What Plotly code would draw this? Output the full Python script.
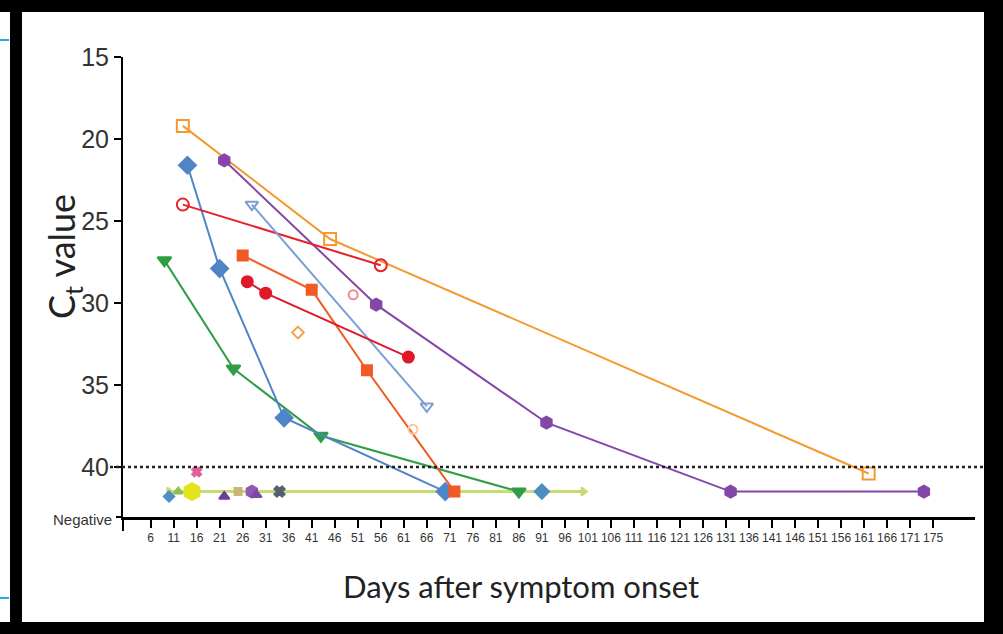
import plotly.graph_objects as go

# ---------------- data ----------------
NEG = 41.5  # plotted level of "Negative" results

orange_sq_x = [13, 45, 162]
orange_sq_y = [19.2, 26.1, 40.4]

blue_dia_x = [14, 21, 35, 70]
blue_dia_y = [21.6, 27.9, 37.0, NEG]

purple_x = [22, 55, 92, 132, 174]
purple_y = [21.3, 30.1, 37.3, NEG, NEG]

red_open_x = [13, 56]
red_open_y = [24.0, 27.7]

lightblue_x = [28, 66]
lightblue_y = [24.0, 36.3]

orangered_x = [26, 41, 53, 72]
orangered_y = [27.1, 29.2, 34.1, NEG]

red_fill_x = [27, 31, 62]
red_fill_y = [28.7, 29.4, 33.3]

green_x = [9, 24, 43, 86]
green_y = [27.4, 34.0, 38.1, NEG]

lime_x = [10, 100]
lime_y = [NEG, NEG]

# isolated single-sample points
single_x = [38, 50, 63, 16, 10, 12, 15, 22, 25, 28, 29, 34, 91]
single_y = [31.8, 29.5, 37.7, 40.3, 41.8, 41.5, 41.5, 41.8, 41.5, 41.5, 41.7, 41.5, NEG]
single_sym = ["diamond-open", "circle-open", "circle-open", "x", "diamond", "triangle-up",
              "hexagon", "triangle-up", "square", "hexagon", "triangle-up", "x", "diamond"]
single_col = ["#f4a24a", "#f08a8a", "#f9c7a0", "#e0609a", "#4f8fc9", "#8cc04a",
              "#e4e41e", "#6a3c9a", "#c8b878", "#8e5bb0", "#7a4aa8", "#556070", "#4a8fc0"]
single_size = [9, 9, 9, 8, 8, 8, 17, 9, 7, 12, 9, 9, 11]

y_tickvals = [15, 20, 25, 30, 35, 40]
y_ticktext = ["15", "20", "25", "30", "35", "40"]
x_tickvals = list(range(6, 177, 5))
x_ticktext = [str(v) for v in range(6, 172, 5)] + ["175"]

# ---------------- layout geometry ----------------
W, H = 1003, 634
L, R, T, B = 123, 975, 57, 517
YMAX = 43.05
XMAX = 185.1

def px(xp):
    return (xp - L) / (R - L)

def py(yp):
    return (B - yp) / (B - T)

fig = go.Figure()

def line_trace(x, y, color, symbol, size=11, lw=2):
    fig.add_trace(go.Scatter(
        x=x, y=y, mode="lines+markers",
        line=dict(color=color, width=lw),
        marker=dict(symbol=symbol, size=size, color=color,
                    line=dict(color=color, width=2)),
        showlegend=False, cliponaxis=False))

line_trace(lime_x, lime_y, "#c4dc74", "triangle-right", size=7, lw=3)
line_trace(orange_sq_x, orange_sq_y, "#f39a2e", "square-open", size=12)
line_trace(purple_x, purple_y, "#8447a8", "hexagon", size=12)
line_trace(green_x, green_y, "#2f9e45", "triangle-down", size=12)
line_trace(blue_dia_x, blue_dia_y, "#4f84c6", "diamond", size=13)
line_trace(red_open_x, red_open_y, "#e8202a", "circle-open", size=12)
line_trace(lightblue_x, lightblue_y, "#7c9ed6", "triangle-down-open", size=11)
line_trace(orangered_x, orangered_y, "#f05a24", "square", size=10)
line_trace(red_fill_x, red_fill_y, "#e0182a", "circle", size=11)

for xv, yv, s, c, sz in zip(single_x, single_y, single_sym, single_col, single_size):
    fig.add_trace(go.Scatter(
        x=[xv], y=[yv], mode="markers",
        marker=dict(symbol=s, size=sz, color=c, line=dict(color=c, width=2)),
        showlegend=False, cliponaxis=False))

shapes = []
# dotted line at Ct = 40
y40 = (YMAX - 40) / (YMAX - 15)
shapes.append(dict(type="line", xref="paper", yref="paper", x0=px(110), x1=px(1000),
                   y0=y40, y1=y40, line=dict(color="#222", width=2.5, dash="dot")))
# y-axis extension below x-axis
shapes.append(dict(type="line", xref="paper", yref="paper", x0=0, x1=0,
                   y0=0, y1=py(531), line=dict(color="black", width=2)))
# negative tick
shapes.append(dict(type="line", xref="paper", yref="paper", x0=px(116), x1=0,
                   y0=0, y1=0, line=dict(color="black", width=2)))
# black frame
frame = [(0, 0, 1003, 12), (10, 0, 22, 634), (984, 0, 1003, 634), (0, 622, 1003, 634)]
for x0, y0, x1, y1 in frame:
    shapes.append(dict(type="rect", xref="paper", yref="paper",
                       x0=px(x0), x1=px(x1), y0=py(y0), y1=py(y1),
                       fillcolor="black", line=dict(width=0), layer="above"))
# small cyan artifacts on the left edge
for yy in (40, 598):
    shapes.append(dict(type="line", xref="paper", yref="paper", x0=px(0), x1=px(9),
                       y0=py(yy), y1=py(yy), line=dict(color="#2aa8d8", width=2)))

annotations = [
    dict(text="Negative", xref="paper", yref="paper", x=px(114), y=py(519),
         xanchor="right", yanchor="middle", showarrow=False,
         font=dict(family="Liberation Sans Narrow, Arial Narrow, sans-serif", size=15, color="#333")),
    dict(text="Days after symptom onset", xref="paper", yref="paper", x=px(521), y=py(586),
         xanchor="center", yanchor="middle", showarrow=False,
         font=dict(family="Lato, sans-serif", size=31, color="#222")),
    dict(text="C<sub>t</sub> value", xref="paper", yref="paper", x=px(63), y=py(257),
         xanchor="center", yanchor="middle", showarrow=False, textangle=-90,
         font=dict(family="Lato, sans-serif", size=36, color="#222")),
]

fig.update_layout(
    width=W, height=H,
    margin=dict(l=L, r=W - R, t=T, b=H - B),
    paper_bgcolor="white", plot_bgcolor="white",
    shapes=shapes, annotations=annotations,
    xaxis=dict(range=[0, XMAX], tickvals=x_tickvals, ticktext=x_ticktext,
               showline=True, linecolor="black", linewidth=2.5, mirror=False,
               ticks="outside", ticklen=8, tickwidth=2, tickcolor="black",
               showgrid=False, zeroline=False,
               tickfont=dict(family="Liberation Sans Narrow, Arial Narrow, sans-serif", size=12, color="#333")),
    yaxis=dict(range=[YMAX, 15], tickvals=y_tickvals, ticktext=y_ticktext,
               showline=True, linecolor="black", linewidth=2,
               ticks="outside", ticklen=7, tickwidth=2, tickcolor="black",
               showgrid=False, zeroline=False,
               tickfont=dict(family="Liberation Sans Narrow, Arial Narrow, sans-serif", size=25, color="#333")),
)

fig.write_html("out.html", config={"displayModeBar": False},
               post_script="document.body.style.margin='0px';")
